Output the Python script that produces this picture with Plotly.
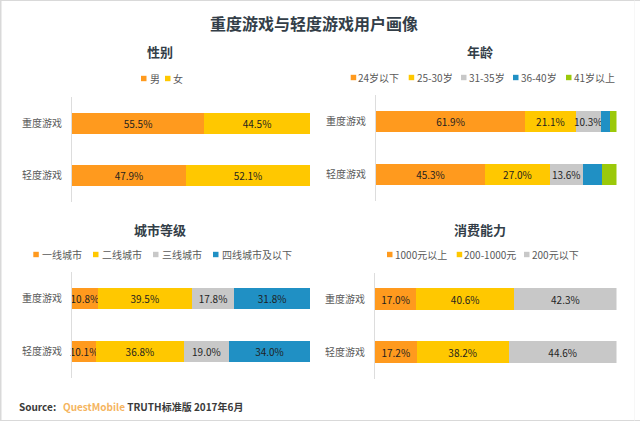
import plotly.graph_objects as go

ROWS = ["重度游戏", "轻度游戏"]
ORANGE, YELLOW, GRAY, BLUE, GREEN = "#FF9A1E", "#FFC800", "#C8C8C8", "#2090C4", "#9BC90A"

gender_names = ["男", "女"]
gender_heavy = [55.5, 44.5]
gender_light = [47.9, 52.1]

age_names = ["24岁以下", "25-30岁", "31-35岁", "36-40岁", "41岁以上"]
age_heavy = [61.9, 21.1, 10.3, 3.9, 2.7]
age_light = [45.3, 27.0, 13.6, 8.0, 6.1]

city_names = ["一线城市", "二线城市", "三线城市", "四线城市及以下"]
city_heavy = [10.8, 39.5, 17.8, 31.8]
city_light = [10.1, 36.8, 19.0, 34.0]

spend_names = ["1000元以上", "200-1000元", "200元以下"]
spend_heavy = [17.0, 40.6, 42.3]
spend_light = [17.2, 38.2, 44.6]

W, H = 640, 421
FONT = "Noto Sans CJK SC"
INK = "#333E48"
MUTED = "#595959"
LABEL = "#1F1F1F"


def px(x):
    return x / W


def py(y):
    return 1 - y / H


panels = [
    dict(title="性别", cx=160, ty=52, names=gender_names, heavy=gender_heavy, light=gender_light,
         colors=[ORANGE, YELLOW], box=(72, 310, 97, 202), ly=78.5,
         legend=[(141, 150), (165, 173)], hide=[]),
    dict(title="年龄", cx=480, ty=52, names=age_names, heavy=age_heavy, light=age_light,
         colors=[ORANGE, YELLOW, GRAY, BLUE, GREEN], box=(376, 616.5, 95, 201), ly=77.5,
         legend=[(350.7, 358), (408.7, 416.6), (461, 469), (513, 521), (566, 574)], hide=[3, 4]),
    dict(title="城市等级", cx=160, ty=229.5, names=city_names, heavy=city_heavy, light=city_light,
         colors=[ORANGE, YELLOW, GRAY, BLUE], box=(72, 310, 272, 378), ly=254.5,
         legend=[(33.3, 42), (93, 102), (153, 162), (213, 222)], hide=[]),
    dict(title="消费能力", cx=480, ty=229.5, names=spend_names, heavy=spend_heavy, light=spend_light,
         colors=[ORANGE, YELLOW, GRAY], box=(375, 616.5, 272.5, 378.5), ly=254.5,
         legend=[(387, 395), (456.7, 464), (524, 532)], hide=[]),
]

fig = go.Figure()
annotations = []
shapes = []


def note(text, x, y, size, color=MUTED, anchor="left"):
    annotations.append(dict(text=text, x=px(x), y=py(y), xref="paper", yref="paper",
                            xanchor=anchor, yanchor="middle", showarrow=False,
                            borderpad=0, borderwidth=0,
                            font=dict(family=FONT, size=size, color=color)))


note("<b>重度游戏与轻度游戏用户画像</b>", 314, 23, 16, INK, "center")
note('<b>Source:   <span style="color:#F5B55F">QuestMobile</span> TRUTH标准版 2017年6月</b>',
     19, 406.5, 10, "#3A3A3A")

# image frame
for bx0, bx1, by0, by1, col in [(0, 640, 0, 1, "#D9D9D9"), (0, 1.5, 0, 421, "#D9D9D9"),
                                (0, 640, 420, 421, "#D9D9D9"), (634.5, 635, 0, 421, "#F0F0F0")]:
    shapes.append(dict(type="rect", xref="paper", yref="paper", line_width=0, fillcolor=col,
                       x0=px(bx0), x1=px(bx1), y0=py(by1), y1=py(by0)))

layout_axes = {}
for i, p in enumerate(panels, start=1):
    x0, x1, y0, y1 = p["box"]
    xa, ya = f"xaxis{i}", f"yaxis{i}"
    layout_axes[xa] = dict(domain=[px(x0), px(x1)], range=[0, 100], visible=False,
                           anchor=f"y{i}", fixedrange=True)
    layout_axes[ya] = dict(domain=[py(y1), py(y0)], range=[1.5, -0.5], type="category",
                           anchor=f"x{i}", showline=True, linecolor="#DDDDDD", linewidth=1,
                           showgrid=False, zeroline=False, ticks="outside", ticklen=7,
                           tickcolor="rgba(0,0,0,0)",
                           tickfont=dict(family=FONT, size=10, color=MUTED), fixedrange=True)
    for j, name in enumerate(p["names"]):
        vals = [p["heavy"][j], p["light"][j]]
        fig.add_trace(go.Bar(
            name=name, y=ROWS, x=vals, orientation="h", xaxis=f"x{i}", yaxis=f"y{i}",
            marker=dict(color=p["colors"][j], line_width=0),
            text=[f"{v:.1f}%" for v in vals] if j not in p["hide"] else None,
            textposition="inside" if j not in p["hide"] else "none",
            insidetextanchor="middle", textangle=0, constraintext="none", cliponaxis=False,
            textfont=dict(family=FONT, size=10, color=LABEL), showlegend=False,
        ))
    note(f"<b>{p['title']}</b>", p["cx"], p["ty"], 13, INK, "center")
    for (sx, tx), name, c in zip(p["legend"], p["names"], p["colors"]):
        shapes.append(dict(type="rect", xref="paper", yref="paper", line_width=0, fillcolor=c,
                           x0=px(sx), x1=px(sx + 5.5), y0=py(p["ly"] + 2.7), y1=py(p["ly"] - 2.7)))
        note(name, tx, p["ly"], 10)

fig.update_layout(
    width=W, height=H, margin=dict(l=0, r=0, t=0, b=0), barmode="stack", barnorm="percent",
    bargap=0.6, paper_bgcolor="white", plot_bgcolor="white", showlegend=False,
    annotations=annotations, shapes=shapes, font=dict(family=FONT), **layout_axes,
)
fig.write_html("out.html", config=dict(displayModeBar=False),
               post_script="document.body.style.margin='0';document.documentElement.style.overflow='hidden';")
